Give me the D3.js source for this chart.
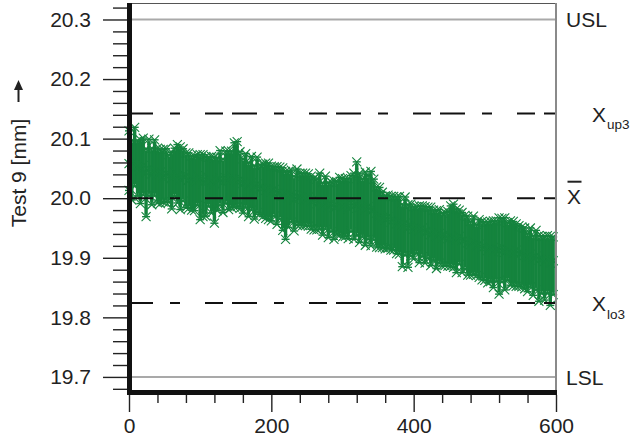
<!DOCTYPE html>
<html><head><meta charset="utf-8">
<script src="https://cdn.jsdelivr.net/npm/d3@7"></script>
<style>body{margin:0;background:#fff} svg{display:block}</style>
</head><body><svg id="c" width="640" height="446"></svg>
<script>
// ---- data ----
const sampleStep = 4; // one subgroup every 4 parts (0..596)
const means = [
 20.058,20.049,20.061,20.052,20.046,20.055,20.043,20.050,20.041,20.047,
 20.039,20.044,20.035,20.042,20.037,20.033,20.045,20.038,20.031,20.040,
 20.036,20.030,20.034,20.027,20.038,20.032,20.025,20.031,20.035,20.028,
 20.024,20.030,20.033,20.026,20.034,20.029,20.036,20.031,20.027,20.032,
 20.025,20.028,20.021,20.026,20.019,20.024,20.016,20.020,20.013,20.017,
 20.011,20.015,20.008,20.012,20.004,20.009,20.001,20.006,19.998,20.003,
 20.000,20.005,19.997,20.002,19.994,19.999,19.991,19.996,19.988,19.993,
 19.986,19.991,19.984,19.989,19.993,19.985,19.990,19.983,19.992,19.987,
 19.990,19.984,19.988,19.981,19.986,19.979,19.983,19.975,19.971,19.968,
 19.964,19.969,19.960,19.965,19.957,19.962,19.953,19.958,19.950,19.955,
 19.948,19.953,19.945,19.950,19.942,19.946,19.939,19.944,19.936,19.941,
 19.934,19.939,19.932,19.937,19.933,19.930,19.936,19.928,19.931,19.925,
 19.922,19.927,19.919,19.923,19.915,19.920,19.912,19.917,19.910,19.915,
 19.912,19.917,19.909,19.914,19.911,19.908,19.913,19.906,19.910,19.904,
 19.901,19.906,19.899,19.903,19.896,19.900,19.894,19.898,19.891,19.895];
const highDev = [
 .055,.048,.058,.044,.052,.046,.040,.049,.043,.051,
 .045,.038,.047,.041,.036,.044,.039,.052,.055,.043,
 .040,.046,.037,.043,.035,.041,.048,.039,.034,.042,
 .044,.038,.047,.040,.045,.050,.043,.062,.068,.046,
 .041,.047,.039,.044,.036,.045,.040,.037,.046,.042,
 .043,.038,.045,.040,.047,.036,.044,.041,.039,.046,
 .042,.037,.045,.039,.043,.035,.041,.046,.038,.044,
 .040,.036,.045,.039,.042,.048,.043,.050,.046,.055,
 .071,.058,.045,.063,.052,.066,.049,.044,.047,.042,
 .040,.036,.043,.038,.045,.041,.037,.044,.039,.035,
 .038,.033,.042,.037,.044,.039,.046,.036,.043,.040,
 .041,.037,.046,.050,.057,.052,.044,.048,.040,.045,
 .039,.043,.037,.041,.046,.040,.048,.044,.052,.047,
 .055,.049,.058,.045,.051,.053,.044,.048,.042,.046,
 .040,.044,.038,.043,.041,.036,.042,.039,.045,.040];
const lowDev = [
 .045,.052,.041,.048,.055,.050,.074,.046,.052,.043,
 .047,.053,.041,.049,.044,.051,.042,.046,.050,.045,
 .052,.047,.054,.048,.050,.068,.056,.061,.049,.053,
 .066,.051,.045,.050,.043,.048,.052,.046,.041,.049,
 .050,.044,.052,.046,.054,.048,.043,.051,.047,.053,
 .049,.045,.052,.047,.058,.078,.050,.046,.053,.048,
 .045,.051,.043,.049,.046,.052,.044,.048,.050,.045,
 .052,.047,.053,.049,.055,.050,.054,.051,.048,.056,
 .052,.058,.053,.060,.055,.059,.053,.057,.054,.051,
 .049,.053,.047,.052,.050,.056,.068,.054,.066,.052,
 .050,.046,.053,.048,.051,.047,.052,.049,.054,.050,
 .048,.052,.046,.051,.049,.055,.047,.053,.050,.054,
 .051,.055,.049,.056,.052,.058,.054,.057,.060,.055,
 .073,.058,.063,.052,.057,.055,.061,.054,.059,.056,
 .058,.055,.062,.057,.069,.060,.065,.058,.071,.057];
const yTickValues = [19.7, 19.8, 19.9, 20.0, 20.1, 20.2, 20.3];
const xTickValues = [0, 200, 400, 600];
const xMinorTicks = [40, 80, 120, 160, 240, 280, 320, 360, 440, 480, 520, 560];
const limitNames = ["USL", "Xup3", "Xbar", "Xlo3", "LSL"];
const limitValues = [20.3, 20.142, 20.0, 19.824, 19.7];
const yTitle = "Test 9 [mm]";

// ---- layout ----
const svg = d3.select("#c");
const FONT = "'Liberation Sans', Arial, Helvetica, sans-serif";
const x = d3.scaleLinear().domain([0, 600]).range([129, 556]);
const y = d3.scaleLinear().domain([19.673, 20.326]).range([393, 4]);
const green = "#15843e";

const samples = means.map((m, i) => ({t: i * sampleStep, m, hi: m + highDev[i], lo: m - lowDev[i]}));

// data marks
const gData = svg.append("g");
const sg = gData.selectAll("g").data(samples).join("g")
  .attr("transform", d => `translate(${x(d.t)},0)`)
  .attr("stroke", green).attr("fill", "none");
sg.append("line").attr("x1", 0).attr("x2", 0)
  .attr("y1", d => y(d.hi) + 2).attr("y2", d => y(d.lo) - 2).attr("stroke-width", 3.4);
["hi", "lo"].forEach(k => {
  sg.append("line").attr("x1", -4).attr("x2", 4)
    .attr("y1", d => y(d[k])).attr("y2", d => y(d[k])).attr("stroke-width", 1.4);
  sg.append("line").attr("x1", 0).attr("x2", 0)
    .attr("y1", d => y(d[k])).attr("y2", d => y(d.m)).attr("stroke-width", 1.5);
  sg.append("path").attr("stroke-width", 1.1)
    .attr("d", d => { const c = y(d[k]); return `M-4.5,${c-4.5}L4.5,${c+4.5}M-4.5,${c+4.5}L4.5,${c-4.5}`; });
});
sg.append("path").attr("stroke-width", 1.1)
  .attr("d", d => { const c = y(d.m); return `M-4.5,${c-4.5}L4.5,${c+4.5}M-4.5,${c+4.5}L4.5,${c-4.5}`; });

// limit lines
limitValues.forEach((v, i) => {
  const name = limitNames[i];
  const solid = name === "USL" || name === "LSL";
  svg.append("line")
    .attr("x1", 132).attr("x2", 556).attr("y1", y(v)).attr("y2", y(v))
    .attr("stroke", solid ? "#a9a9a9" : "#111")
    .attr("stroke-width", 2)
    .attr("stroke-dasharray", solid ? null : "18,9,25,17,10,25")
    .attr("stroke-dashoffset", solid ? null : 31);
});

// frame
svg.append("line").attr("x1", 129).attr("x2", 556).attr("y1", 3.5).attr("y2", 3.5)
  .attr("stroke", "#555").attr("stroke-width", 1.2);
svg.append("line").attr("x1", 556).attr("x2", 556).attr("y1", 3).attr("y2", 392)
  .attr("stroke", "#8a8a8a").attr("stroke-width", 2);
svg.append("rect").attr("x", 127).attr("y", 3).attr("width", 5).attr("height", 392).attr("fill", "#111");
svg.append("rect").attr("x", 127).attr("y", 390).attr("width", 430).attr("height", 5).attr("fill", "#111");

// y axis
const yMinor = d3.range(19.68, 20.33, 0.02).filter(v => !yTickValues.some(t => Math.abs(t - v) < 1e-6));
const yAxisMinor = svg.append("g").attr("transform", "translate(127,0)")
  .call(d3.axisLeft(y).tickValues(yMinor).tickSize(14).tickFormat(""));
const yAxis = svg.append("g").attr("transform", "translate(127,0)")
  .call(d3.axisLeft(y).tickValues(yTickValues).tickSize(24).tickPadding(12).tickFormat(d3.format(".1f")));
[yAxisMinor, yAxis].forEach(g => {
  g.select(".domain").remove();
  g.selectAll("line").attr("stroke", "#222").attr("stroke-width", 1.4);
});
yAxis.selectAll("text").attr("font-family", FONT).attr("font-size", 21).attr("fill", "#222");

// x axis
const xAxisMinor = svg.append("g").attr("transform", "translate(0,395)")
  .call(d3.axisBottom(x).tickValues(xMinorTicks).tickSize(8).tickFormat(""));
const xAxis = svg.append("g").attr("transform", "translate(0,395)")
  .call(d3.axisBottom(x).tickValues(xTickValues).tickSize(17).tickPadding(6).tickFormat(d3.format("d")));
[xAxisMinor, xAxis].forEach(g => {
  g.select(".domain").remove();
  g.selectAll("line").attr("stroke", "#222").attr("stroke-width", 1.4);
});
xAxis.selectAll("text").attr("font-family", FONT).attr("font-size", 21).attr("fill", "#222");

// y title with arrow
const titleG = svg.append("g").attr("transform", "translate(26,0) rotate(-90)");
titleG.append("text").attr("x", -173).attr("y", 0)
  .attr("text-anchor", "middle").attr("font-family", FONT).attr("font-size", 21).attr("fill", "#222")
  .text(yTitle);
titleG.append("line").attr("x1", -102).attr("x2", -88).attr("y1", -7.5).attr("y2", -7.5)
  .attr("stroke", "#222").attr("stroke-width", 2);
titleG.append("path").attr("d", "M-80,-7.5L-90,-12L-90,-3Z").attr("fill", "#222");

// right labels
limitValues.forEach((v, i) => {
  const name = limitNames[i];
  const t = svg.append("text").attr("font-family", FONT).attr("font-size", 21).attr("fill", "#222");
  if (name === "USL" || name === "LSL") {
    t.attr("x", 566).attr("y", y(v) + 8).text(name);
  } else if (name === "Xbar") {
    t.attr("x", 567).attr("y", y(v) + 6).text("X");
    svg.append("line").attr("x1", 567.5).attr("x2", 581.5).attr("y1", y(v) - 16.5).attr("y2", y(v) - 16.5)
      .attr("stroke", "#222").attr("stroke-width", 2);
  } else {
    t.attr("x", 592).attr("y", y(v) + 8);
    t.append("tspan").text("X");
    t.append("tspan").attr("font-size", 13.5).attr("dy", 7.5).attr("dx", 1).text(name.slice(1));
  }
});
</script></body></html>
